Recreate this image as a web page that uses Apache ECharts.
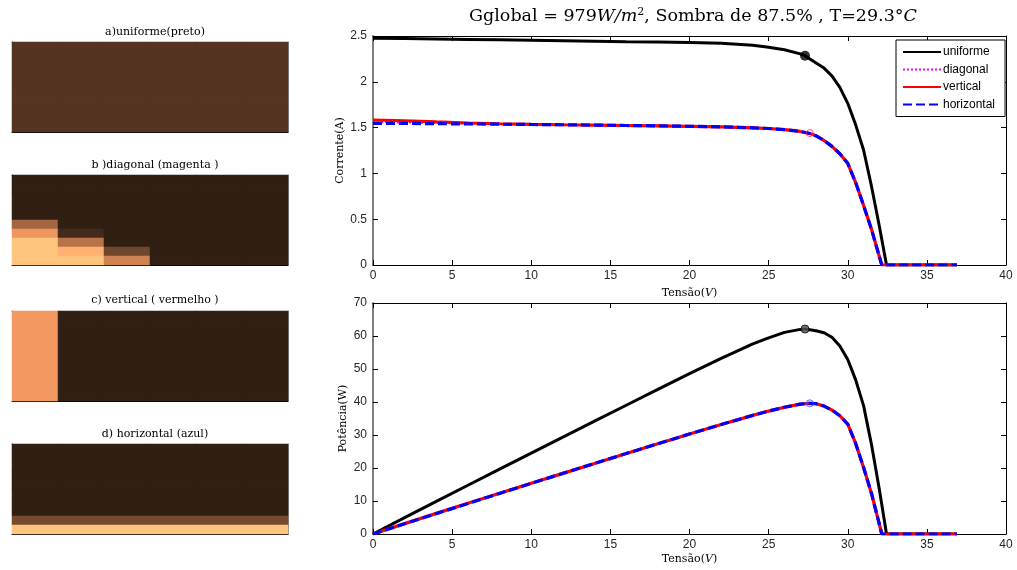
<!DOCTYPE html>
<html><head><meta charset="utf-8">
<script src="https://cdn.jsdelivr.net/npm/echarts@6/dist/echarts.min.js"></script>
<style>html,body{margin:0;padding:0;background:#fff}#c{width:1017px;height:570px}</style>
</head><body><div id="c"></div>
<script>
// ---------- data ----------
const seriesNames = ['uniforme', 'diagonal', 'vertical', 'horizontal'];
const panelTitles = ['a)uniforme(preto)', 'b )diagonal (magenta )', 'c) vertical ( vermelho )', 'd) horizontal (azul)'];

const vUniform = [0,2,4,6,8,10,12,14,16,18,20,22,24,25,26,27,27.3,28,28.5,29,29.5,30,30.5,31,31.5,32,32.45,33,34,35,36,36.9];
const iUniform = [2.475,2.472,2.468,2.463,2.458,2.453,2.448,2.443,2.438,2.434,2.429,2.420,2.400,2.378,2.350,2.305,2.285,2.205,2.150,2.065,1.940,1.765,1.530,1.255,0.860,0.420,0,0,0,0,0,0];
const pUniform = [0,4.94,9.87,14.78,19.66,24.53,29.38,34.20,39.01,43.81,48.58,53.24,57.60,59.45,61.10,62.0,62.1,61.6,61.0,59.6,57.0,52.9,46.7,38.9,27.1,13.4,0,0,0,0,0,0];

const vShaded = [0,2,4,6,8,10,12,14,16,18,20,22,24,25,26,27,27.6,28,28.5,29,29.5,30,30.5,31,31.5,32,32.15,33,34,35,36,36.9];
const iDiagonal = [1.560,1.556,1.551,1.545,1.540,1.535,1.531,1.527,1.523,1.519,1.514,1.508,1.498,1.490,1.477,1.458,1.435,1.410,1.360,1.295,1.215,1.110,0.900,0.650,0.390,0.090,0,0,0,0,0,0];
const iVertical = [1.583,1.575,1.562,1.550,1.542,1.536,1.531,1.527,1.523,1.519,1.514,1.508,1.498,1.490,1.477,1.458,1.435,1.410,1.360,1.295,1.215,1.110,0.900,0.650,0.390,0.090,0,0,0,0,0,0];
const iHorizontal = [1.547,1.546,1.543,1.540,1.537,1.534,1.531,1.527,1.523,1.519,1.514,1.508,1.498,1.490,1.477,1.458,1.435,1.410,1.360,1.295,1.215,1.110,0.900,0.650,0.390,0.090,0,0,0,0,0,0];
const pDiagonal = [0,3.11,6.20,9.27,12.32,15.35,18.37,21.38,24.37,27.34,30.28,33.18,35.95,37.25,38.40,39.37,39.61,39.48,38.76,37.56,35.84,33.30,27.45,20.15,12.29,2.88,0,0,0,0,0,0];
const pVertical = [0,3.15,6.25,9.30,12.34,15.36,18.37,21.38,24.37,27.34,30.28,33.18,35.95,37.25,38.40,39.37,39.61,39.48,38.76,37.56,35.84,33.30,27.45,20.15,12.29,2.88,0,0,0,0,0,0];
const pHorizontal = [0,3.09,6.17,9.24,12.30,15.34,18.37,21.38,24.37,27.34,30.28,33.18,35.95,37.25,38.40,39.37,39.61,39.48,38.76,37.56,35.84,33.30,27.45,20.15,12.29,2.88,0,0,0,0,0,0];

const mppUniformIV = [27.3, 2.285];
const mppUniformPV = [27.3, 62.1];
const mppShadedIV = [27.6, 1.44];
const mppShadedPV = [27.6, 39.6];

// shading maps (copper colormap index, 10 rows x 6 columns, top row first)
const D = 0.155, L = 0.985;
const shadeUniform = Array.from({length:10}, () => [0.267,0.267,0.267,0.267,0.267,0.267]);
const shadeDiagonal = [
  [D,D,D,D,D,D],[D,D,D,D,D,D],[D,D,D,D,D,D],[D,D,D,D,D,D],[D,D,D,D,D,D],
  [0.51,D,D,D,D,D],
  [0.75,0.21,D,D,D,D],
  [L,0.577,D,D,D,D],
  [L,0.88,0.35,D,D,D],
  [L,L,0.65,D,D,D]
];
const shadeVertical = Array.from({length:10}, () => [0.765,D,D,D,D,D]);
const shadeHorizontal = [
  [D,D,D,D,D,D],[D,D,D,D,D,D],[D,D,D,D,D,D],[D,D,D,D,D,D],[D,D,D,D,D,D],
  [D,D,D,D,D,D],[D,D,D,D,D,D],[D,D,D,D,D,D],
  [0.37,0.37,0.37,0.37,0.37,0.37],
  [L,L,L,L,L,L]
];
const shadeMaps = [shadeUniform, shadeDiagonal, shadeVertical, shadeHorizontal];
const copperStops = ['#000000','#402819','#805032','#bf784c','#ff9f65','#ffc77f'];

// ---------- layout ----------
const SANS = 'Liberation Sans, Arial, sans-serif';
const SERIF = 'DejaVu Serif, serif';
const panelGrids = [
  {left:12, top:42, width:276, height:90},
  {left:12, top:175, width:276, height:90},
  {left:12, top:311, width:276, height:90},
  {left:12, top:444, width:276, height:90}
];
const grids = [
  {left:373, top:36, width:633, height:229},
  {left:373, top:303, width:633, height:231},
  ...panelGrids
];

const tickLbl = {fontFamily:SANS, fontSize:12, color:'#262626'};
const xAxes = [], yAxes = [];
function valX(g, pos, labels, name, gap) {
  return {gridIndex:g, type:'value', min:0, max:40, interval:5, position:pos,
    axisLine:{show:true, onZero:false, lineStyle:{color:'#000', width:1}},
    axisTick:{show:true, inside:true, length:5, lineStyle:{color:'#000'}},
    axisLabel:Object.assign({show:labels, margin:5}, tickLbl),
    splitLine:{show:false},
    name: name || '', nameLocation:'middle', nameGap:gap || 20, nameMoveOverlap:false,
    nameTextStyle:{fontFamily:SERIF, fontSize:11, color:'#000',
      rich:{r:{fontFamily:SERIF, fontSize:11}, i:{fontFamily:SERIF, fontSize:11, fontStyle:'italic'}}}
  };
}
function valY(g, pos, max, interval, labels, name, gap) {
  return {gridIndex:g, type:'value', min:0, max:max, interval:interval, position:pos,
    axisLine:{show:true, onZero:false, lineStyle:pos==='left'?{color:'#7f7f7f', width:2}:{color:'#000', width:1}},
    axisTick:{show:true, inside:true, length:5, lineStyle:{color:'#000'}},
    axisLabel:Object.assign({show:labels, margin:6}, tickLbl),
    splitLine:{show:false},
    name: name || '', nameLocation:'middle', nameGap:gap || 25, nameMoveOverlap:false,
    nameTextStyle:{fontFamily:SERIF, fontSize:11, color:'#000'}
  };
}
const tensao = '{r|Tensão(}{i|V}{r|)}';
xAxes.push(valX(0,'bottom',true,tensao,23), valX(0,'top',false));
xAxes.push(valX(1,'bottom',true,tensao,20), valX(1,'top',false));
yAxes.push(valY(0,'left',2.5,0.5,true,'Corrente(A)',27), valY(0,'right',2.5,0.5,false));
yAxes.push(valY(1,'left',70,10,true,'Potência(W)',24), valY(1,'right',70,10,false));

const colCats = ['1','2','3','4','5','6'];
const rowCats = ['1','2','3','4','5','6','7','8','9','10'];
for (let k = 0; k < 4; k++) {
  const g = k + 2;
  ['bottom','top'].forEach(pos => xAxes.push({gridIndex:g, type:'category', data:colCats, position:pos,
    axisLine:{show:true, lineStyle:{color: pos==='bottom' ? '#000' : '#888', width:1}},
    axisTick:{show:true, inside:true, length:3, alignWithLabel:true, interval:0, lineStyle:{color:'#000'}},
    axisLabel:{show:false}, splitLine:{show:false}, splitArea:{show:false}}));
  ['left','right'].forEach(pos => yAxes.push({gridIndex:g, type:'category', data:rowCats, inverse:true, position:pos,
    axisLine:{show:true, lineStyle:{color: pos==='left' ? '#333' : '#888', width:1}},
    axisTick:{show:true, inside:true, length:3, alignWithLabel:true, interval:(i)=> i % 2 === 1, lineStyle:{color:'#000'}},
    axisLabel:{show:false}, splitLine:{show:false}, splitArea:{show:false}}));
}

const pairs = (xs, ys) => xs.map((x, i) => [x, ys[i]]);
const lineStyles = [
  {color:'#000000', width:3, type:'solid'},
  {color:'#ff00ff', width:2, type:'dotted'},
  {color:'#ff0000', width:3.2, type:'solid'},
  {color:'#0000ff', width:3.2, type:[9,4]}
];
const ivData = [pairs(vUniform,iUniform), pairs(vShaded,iDiagonal), pairs(vShaded,iVertical), pairs(vShaded,iHorizontal)];
const pvData = [pairs(vUniform,pUniform), pairs(vShaded,pDiagonal), pairs(vShaded,pVertical), pairs(vShaded,pHorizontal)];

const series = [];
[0,1].forEach(g => {
  const dataSet = g === 0 ? ivData : pvData;
  seriesNames.forEach((nm, k) => series.push({
    name:nm, type:'line', xAxisIndex:2*g, yAxisIndex:2*g, data:dataSet[k],
    symbol:'none', color:lineStyles[k].color, lineStyle:lineStyles[k], z:2+k, animation:false
  }));
});
// maximum power point markers
series.push({type:'scatter', xAxisIndex:0, yAxisIndex:0, data:[mppUniformIV], symbol:'circle', symbolSize:10,
  itemStyle:{color:'#000'}, z:10});
series.push({type:'scatter', xAxisIndex:0, yAxisIndex:0, data:[mppShadedIV], symbol:'circle', symbolSize:7,
  itemStyle:{color:'rgba(0,0,0,0)', borderColor:'#ff2060', borderWidth:1}, z:10});
series.push({type:'scatter', xAxisIndex:2, yAxisIndex:2, data:[mppUniformPV], symbol:'circle', symbolSize:8,
  itemStyle:{color:'#555', borderColor:'#000', borderWidth:1}, z:10});
series.push({type:'scatter', xAxisIndex:2, yAxisIndex:2, data:[mppShadedPV], symbol:'circle', symbolSize:7,
  itemStyle:{color:'rgba(0,0,0,0)', borderColor:'#3050ff', borderWidth:1}, z:10});

const heatIdx = [];
shadeMaps.forEach((m, k) => {
  const data = [];
  m.forEach((row, r) => row.forEach((v, c) => data.push([c, r, v])));
  heatIdx.push(series.length);
  series.push({type:'heatmap', xAxisIndex:4+2*k, yAxisIndex:4+2*k, data:data, animation:false,
    itemStyle:{borderWidth:0}, emphasis:{disabled:true}});
});

const titles = [{
  text:'{r|Gglobal = 979}{i|W/m}{s|2}{r|, Sombra de 87.5% , T=29.3°}{i|C}',
  left:688, top:2, textAlign:'center',
  textStyle:{fontFamily:SERIF, fontSize:17.5, fontWeight:'normal', color:'#000',
    rich:{r:{fontFamily:SERIF, fontSize:17.5, color:'#000'},
          i:{fontFamily:SERIF, fontSize:17.5, fontStyle:'italic', color:'#000'},
          s:{fontFamily:SERIF, fontSize:11, color:'#000', verticalAlign:'top', padding:[0,0,7,0]}}}
}];
const titleTops = [22, 155, 290, 424];
panelTitles.forEach((t, k) => titles.push({text:t, left:150, top:titleTops[k], textAlign:'center',
  textStyle:{fontFamily:SERIF, fontSize:11, fontWeight:'normal', color:'#000'}}));

const option = {
  animation:false,
  backgroundColor:'#fff',
  title:titles,
  grid:grids.map(g => Object.assign({containLabel:false}, g)),
  xAxis:xAxes, yAxis:yAxes,
  legend:{data:seriesNames, orient:'vertical', left:896, top:40, padding:[6,10,6,6],
    itemGap:5.5, itemWidth:38, itemHeight:12, backgroundColor:'#fff', borderColor:'#000', borderWidth:1,
    borderRadius:0, itemStyle:{opacity:0},
    textStyle:{fontFamily:SANS, fontSize:12, color:'#000', padding:[0,0,0,-3]}},
  visualMap:{show:false, type:'continuous', min:0, max:1, seriesIndex:heatIdx, inRange:{color:copperStops}},
  series:series
};
const chart = echarts.init(document.getElementById('c'), null, {renderer:'canvas'});
chart.setOption(option);
</script></body></html>
